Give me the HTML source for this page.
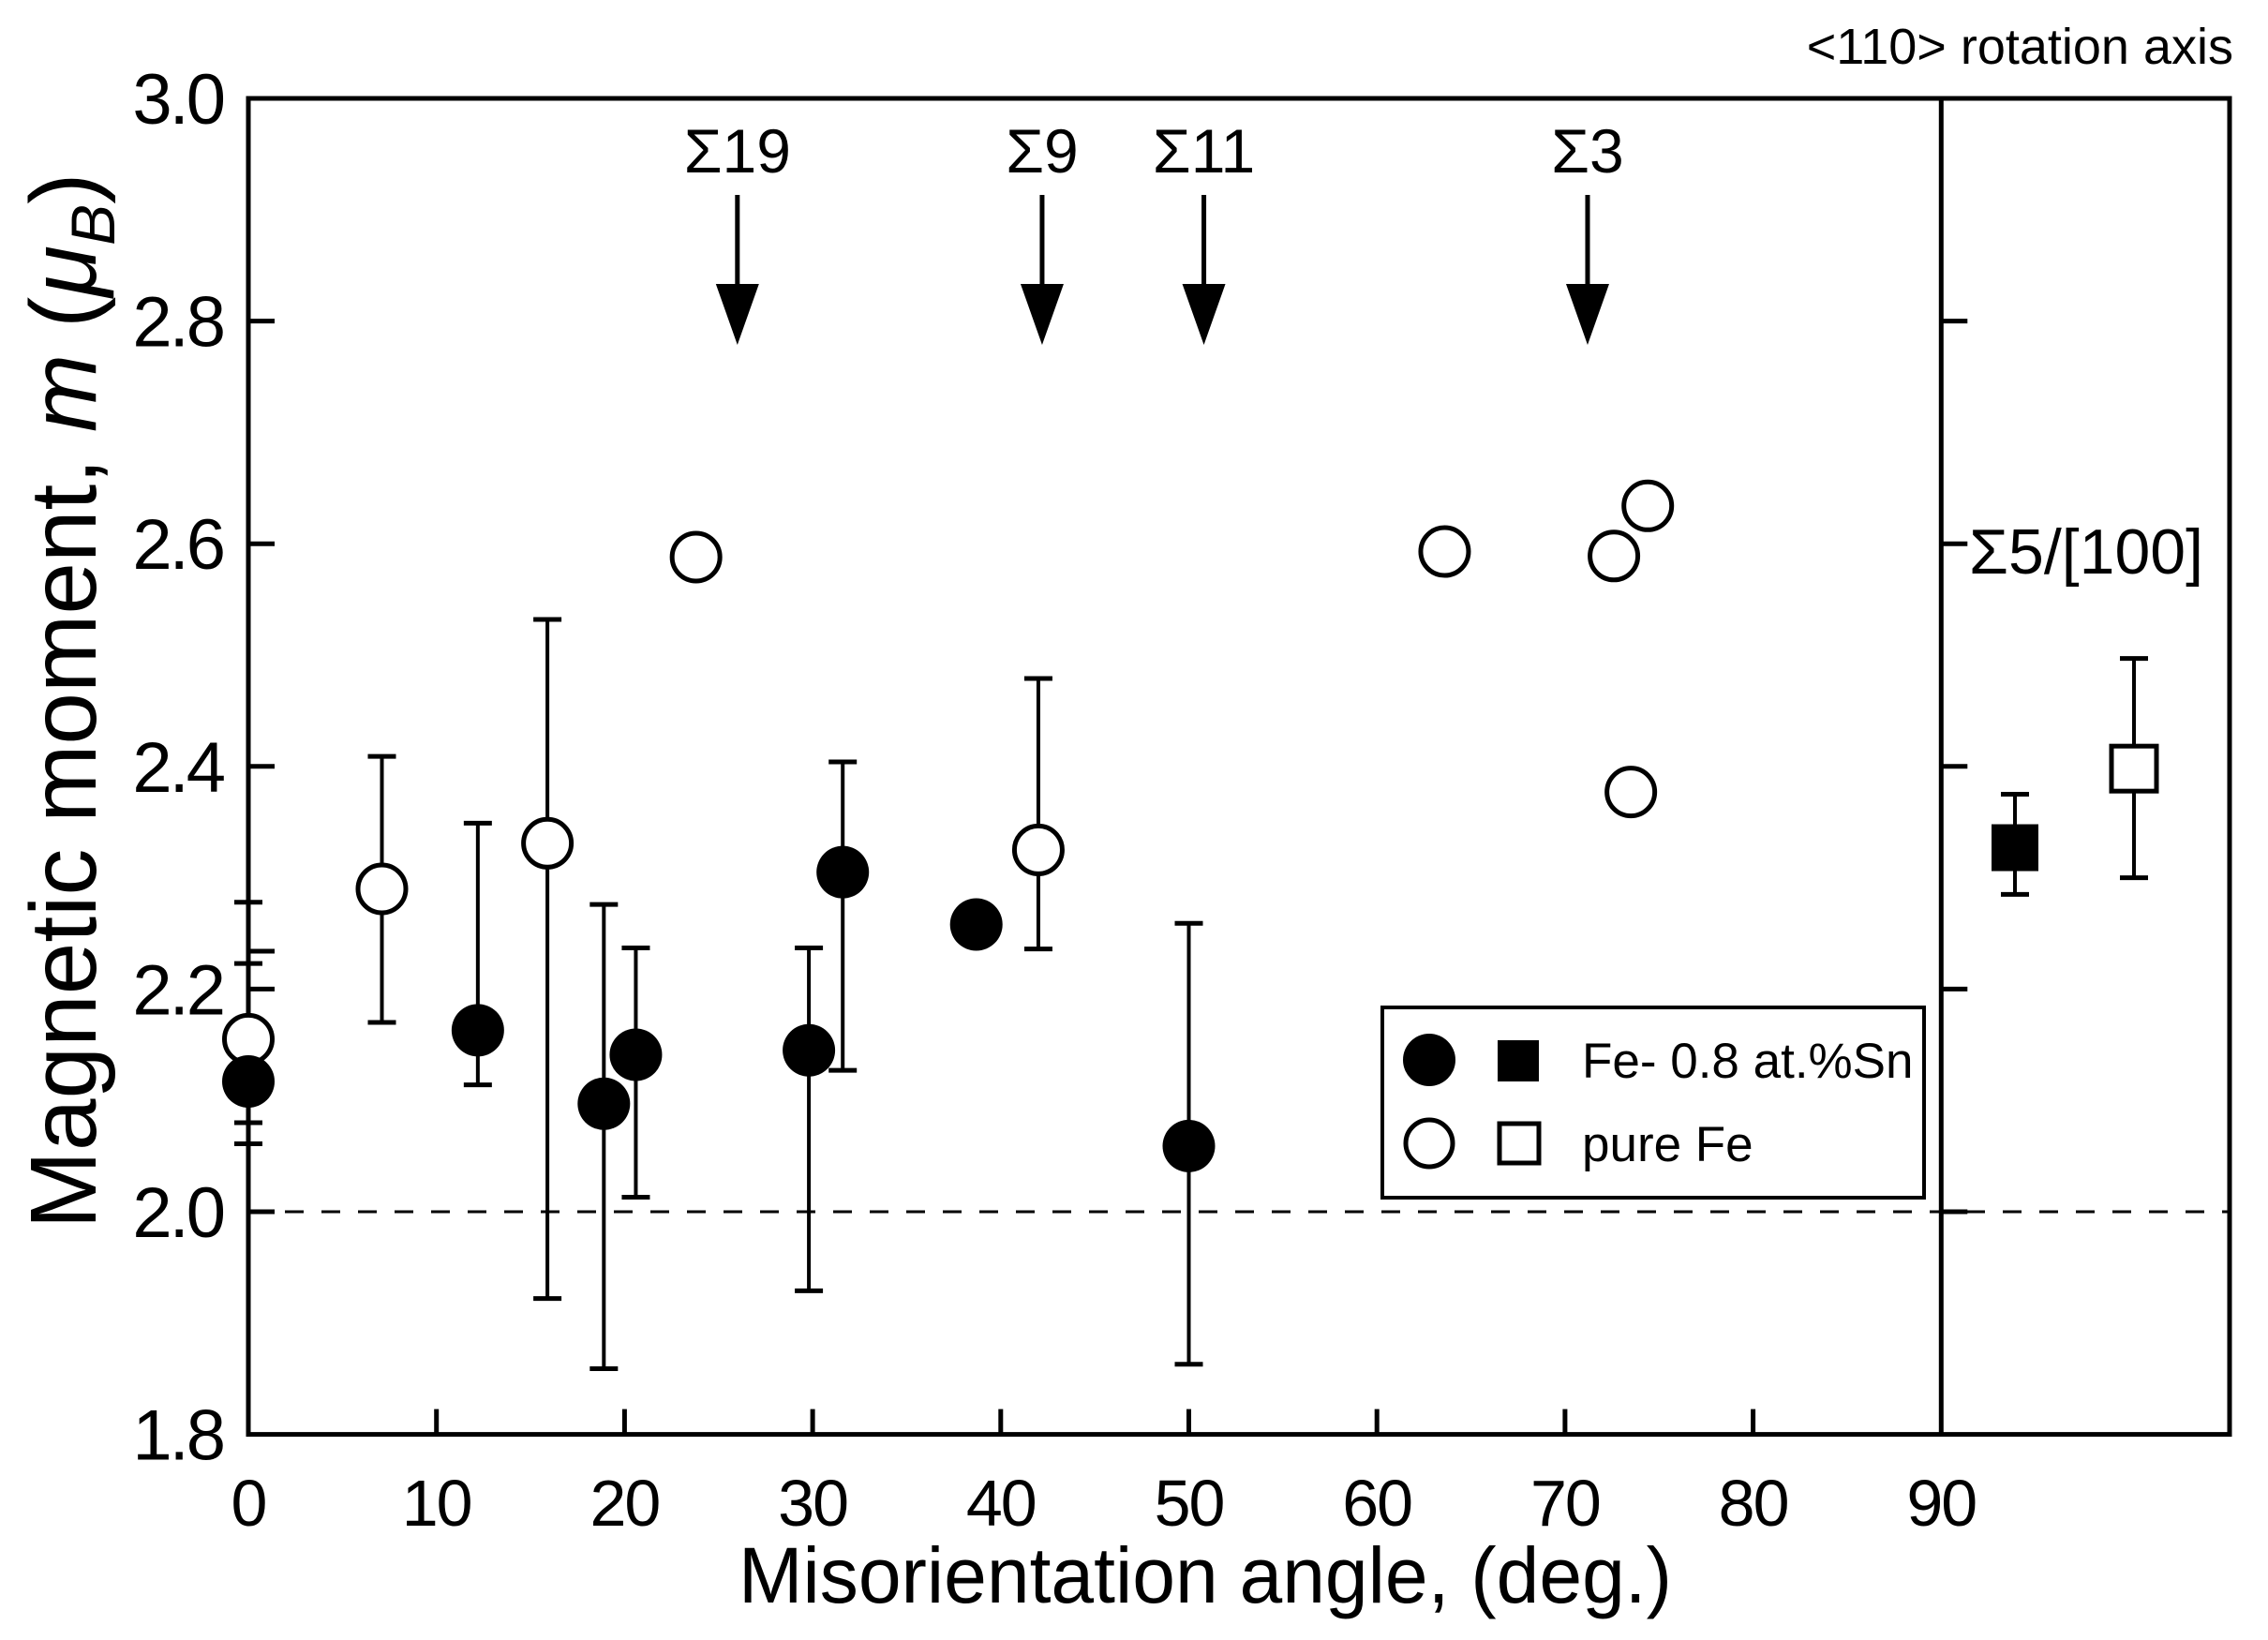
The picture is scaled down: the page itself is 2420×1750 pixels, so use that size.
<!DOCTYPE html>
<html><head><meta charset="utf-8"><style>
html,body{margin:0;padding:0;background:#fff;}
svg{display:block;font-family:"Liberation Sans",sans-serif;}
</style></head><body>
<svg id="chart" width="2420" height="1750" viewBox="0 0 2420 1750" xmlns="http://www.w3.org/2000/svg"></svg>
<script>
// ---- data ----
const snAngles = [0, 12.2, 18.9, 20.6, 29.8, 31.6, 38.7, 50.0];
const snValues = [2.117, 2.163, 2.097, 2.141, 2.145, 2.305, 2.258, 2.059];
const snErrHi  = [2.223, 2.349, 2.276, 2.237, 2.237, 2.404, null, 2.259];
const snErrLo  = [2.080, 2.114, 1.859, 2.013, 1.929, 2.127, null, 1.863];
const feAngles = [0, 7.1, 15.9, 23.8, 42.0, 63.6, 72.6, 74.4, 73.5];
const feValues = [2.155, 2.290, 2.331, 2.588, 2.325, 2.593, 2.589, 2.634, 2.377];
const feErrHi  = [2.278, 2.409, 2.532, null, 2.479, null, null, null, null];
const feErrLo  = [2.061, 2.170, 1.922, null, 2.236, null, null, null, null];
const sigmaLabels = ["Σ19", "Σ9", "Σ11", "Σ3"];
const sigmaAngles = [26.0, 42.2, 50.8, 71.2];
const sq5Labels = ["Fe-Sn", "pure Fe"];
const sq5Values = [2.327, 2.398];
const sq5ErrHi = [2.375, 2.497];
const sq5ErrLo = [2.285, 2.300];
const xTicks = [0,10,20,30,40,50,60,70,80,90];
const yTicks = [1.8,2.0,2.2,2.4,2.6,2.8,3.0];

// ---- axes ----
const X0=265, XPD=20.07, Y2=1293, YPU=1188;
const RIGHT=2379;
const xs = a => X0 + a*XPD;
const ys = v => Y2 - (v-2)*YPU;
const NS="http://www.w3.org/2000/svg";
const svg=document.getElementById('chart');
function mk(tag, attrs, parent){const e=document.createElementNS(NS,tag);for(const k in attrs)e.setAttribute(k,attrs[k]);(parent||svg).appendChild(e);return e;}
const TOP=ys(3.0), BOT=ys(1.8), X90=xs(90);

const frame=mk('rect',{x:X0,y:TOP,width:RIGHT-X0,height:BOT-TOP,fill:'none',stroke:'#000','stroke-width':5});


const div=mk('line',{x1:X90,y1:TOP,x2:X90,y2:BOT,stroke:'#000','stroke-width':5});


const dash=mk('line',{x1:X0,y1:ys(2.0),x2:RIGHT,y2:ys(2.0),stroke:'#000','stroke-width':3,'stroke-dasharray':'20,19'});



yTicks.forEach(v=>{
  if(v>1.8 && v<3.0){
    const t=mk('line',{x1:X0,y1:ys(v),x2:X0+28,y2:ys(v),stroke:'#000','stroke-width':5});
    
    
    const t2=mk('line',{x1:X90,y1:ys(v),x2:X90+28,y2:ys(v),stroke:'#000','stroke-width':5});
    
    
  }
  const l=mk('text',{x:238,y:ys(v)+27,'font-size':76,'text-anchor':'end','letter-spacing':-3});
  l.textContent=v.toFixed(1);
  
  
});
const et=mk('line',{x1:X0,y1:1015,x2:X0+28,y2:1015,stroke:'#000','stroke-width':5});


xTicks.forEach(a=>{
  if(a>0 && a<90){
    const t=mk('line',{x1:xs(a),y1:BOT,x2:xs(a),y2:BOT-27,stroke:'#000','stroke-width':5});
    
    
  }
  const l=mk('text',{x:xs(a),y:1628,'font-size':70,'text-anchor':'middle','letter-spacing':-2});
  l.textContent=a;
  
  
});
const xt=mk('text',{x:1286,y:1710,'font-size':84,'text-anchor':'middle',textLength:996,lengthAdjust:'spacingAndGlyphs'});
xt.textContent='Misorientation angle, (deg.)';


const yt=mk('text',{x:0,y:0,'font-size':100,'text-anchor':'middle',transform:'translate(102,748) rotate(-90)'});
yt.innerHTML='Magnetic moment, <tspan font-style="italic">m</tspan> (<tspan font-style="italic">μ</tspan><tspan font-style="italic" font-size="66" dy="20">B</tspan><tspan dy="-20">)</tspan>';


const rt=mk('text',{x:2383,y:68,'font-size':54,'text-anchor':'end'});
rt.textContent='<110> rotation axis';


const s5=mk('text',{x:2101,y:612,'font-size':68});
s5.textContent='Σ5/[100]';



sigmaAngles.forEach((a,i)=>{
  const x=xs(a);
  const g=mk('g',{});
  
  
  const t=mk('text',{x:x,y:184,'font-size':66,'text-anchor':'middle'},g);
  t.textContent=sigmaLabels[i];
  mk('line',{x1:x,y1:208,x2:x,y2:306,stroke:'#000','stroke-width':5},g);
  mk('polygon',{points:`${x-23},303 ${x+23},303 ${x},368`,fill:'#000'},g);
});

function errbar(x,hi,lo,name){
  if(hi==null) return;
  const g=mk('g',{});
  
  
  mk('line',{x1:x,y1:ys(hi),x2:x,y2:ys(lo),stroke:'#000','stroke-width':4},g);
  mk('line',{x1:x-15,y1:ys(hi),x2:x+15,y2:ys(hi),stroke:'#000','stroke-width':5},g);
  mk('line',{x1:x-15,y1:ys(lo),x2:x+15,y2:ys(lo),stroke:'#000','stroke-width':5},g);
}
feAngles.forEach((a,i)=>errbar(xs(a),feErrHi[i],feErrLo[i],'pure-fe-error-bar'));
snAngles.forEach((a,i)=>errbar(xs(a),snErrHi[i],snErrLo[i],'fe-sn-error-bar'));
feAngles.forEach((a,i)=>{
  const c=mk('circle',{cx:xs(a),cy:ys(feValues[i]),r:25.5,fill:'#fff',stroke:'#000','stroke-width':5});
  
  
});
snAngles.forEach((a,i)=>{
  const c=mk('circle',{cx:xs(a),cy:ys(snValues[i]),r:28,fill:'#000'});
  
  
});
const sqX=[2150,2277];
sq5Values.forEach((v,i)=>{
  errbar(sqX[i],sq5ErrHi[i],sq5ErrLo[i],'sigma5-error-bar');
  const s=mk('rect',{x:sqX[i]-24,y:ys(v)-24,width:48,height:48,fill:i==0?'#000':'#fff',stroke:'#000','stroke-width':i==0?2:5});
  
  
});

const lg=mk('g',{});


mk('rect',{x:1475,y:1075,width:578,height:203,fill:'#fff',stroke:'#000','stroke-width':4},lg);
mk('circle',{cx:1525,cy:1131,r:28,fill:'#000'},lg);
mk('rect',{x:1598,y:1110,width:44,height:44,fill:'#000'},lg);
const l1=mk('text',{x:1688,y:1150,'font-size':53},lg);
l1.textContent='Fe- 0.8 at.%Sn';
mk('circle',{cx:1525,cy:1220,r:25,fill:'#fff',stroke:'#000','stroke-width':5},lg);
mk('rect',{x:1600,y:1199,width:42,height:42,fill:'#fff',stroke:'#000','stroke-width':5},lg);
const l2=mk('text',{x:1688,y:1239,'font-size':53},lg);
l2.textContent='pure Fe';
</script>
</body></html>
